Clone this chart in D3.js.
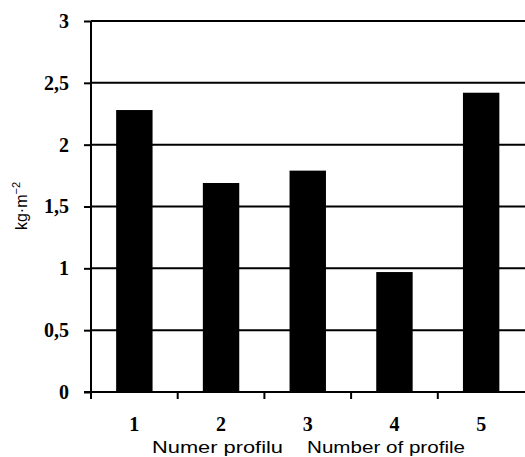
<!DOCTYPE html>
<html lang="en">
<head>
  <meta charset="UTF-8">
  <title>Numer profilu</title>
  <script src="https://d3js.org/d3.v7.min.js"></script>
  <style>
    body { margin: 0; background: #fff; }
    .tick text { font-family: "Liberation Serif", serif; font-weight: bold; font-size: 20px; fill: #000; }
    .domain, .tick line { stroke: #000; stroke-width: 2; }
  </style>
</head>
<body>
<div id="chart"></div>
<script>
// dane
const profiles = ["1", "2", "3", "4", "5"];
const values = [2.28, 1.69, 1.79, 0.97, 2.42];
const yTicks = [0, 0.5, 1, 1.5, 2, 2.5, 3];
const yTickLabels = ["0", "0,5", "1", "1,5", "2", "2,5", "3"];

const W = 525, H = 457;
const margin = {top: 21, right: 0, bottom: 65, left: 91};
const width = 524.5 - margin.left, height = 392 - margin.top;

const svg = d3.select("#chart").append("svg")
  .attr("width", W).attr("height", H);
const g = svg.append("g").attr("transform", `translate(${margin.left},${margin.top})`);

const x = d3.scaleBand().domain(profiles).range([0, width]).paddingInner(0.58).paddingOuter(0.29);
const xt = d3.scaleBand().domain(profiles).range([0, width]);
const y = d3.scaleLinear().domain([0, 3]).range([height, 0]);

// linie siatki
g.append("g").selectAll("line").data(yTicks).join("line")
  .attr("x1", 0).attr("x2", W - margin.left)
  .attr("y1", d => y(d)).attr("y2", d => y(d))
  .attr("stroke", "#000").attr("stroke-width", 2);

// słupki
g.append("g").selectAll("rect").data(values).join("rect")
  .attr("x", (d, i) => x(profiles[i]))
  .attr("y", d => y(d))
  .attr("width", x.bandwidth())
  .attr("height", d => height - y(d))
  .attr("fill", "#000");

// oś Y
const yAxis = g.append("g")
  .call(d3.axisLeft(y).tickValues(yTicks).tickFormat((d, i) => yTickLabels[i]).tickSize(7).tickPadding(15));
yAxis.select(".domain").attr("d", `M0,${height}V0`);

// oś X (znaczniki na granicach kategorii)
const xAxis = g.append("g").attr("transform", `translate(0,${height})`);
xAxis.append("line").attr("x1", -7).attr("x2", width).attr("stroke", "#000").attr("stroke-width", 2);
xAxis.selectAll("line.tk").data(profiles).join("line").attr("class", "tk")
  .attr("x1", d => xt(d)).attr("x2", d => xt(d))
  .attr("y1", 0).attr("y2", 7)
  .attr("stroke", "#000").attr("stroke-width", 2);
xAxis.selectAll("text").data(profiles).join("text")
  .attr("x", d => xt(d) + xt.bandwidth() / 2)
  .attr("y", 39)
  .attr("text-anchor", "middle")
  .attr("font-family", "Liberation Serif, serif")
  .attr("font-weight", "bold")
  .attr("font-size", 20)
  .text(d => d);

// tytuł osi X (dwie części, rozciągnięte jak w oryginale)
const titles = [["Numer profilu", 152, 131], ["Number of profile", 307, 158]];
svg.selectAll("text.xt").data(titles).join("text").attr("class", "xt")
  .attr("x", d => d[1]).attr("y", 453)
  .attr("font-family", "Liberation Sans, Arial, sans-serif")
  .attr("font-size", 16)
  .attr("textLength", d => d[2])
  .attr("lengthAdjust", "spacingAndGlyphs")
  .text(d => d[0]);

// tytuł osi Y
const yl = svg.append("text")
  .attr("transform", "translate(27,206) rotate(-90)")
  .attr("text-anchor", "middle")
  .attr("font-family", "Liberation Sans, Arial, sans-serif")
  .attr("font-size", 16);
yl.append("tspan").text("kg·m");
yl.append("tspan").attr("dy", -7).attr("font-size", 11).text("−2");
</script>
</body>
</html>
